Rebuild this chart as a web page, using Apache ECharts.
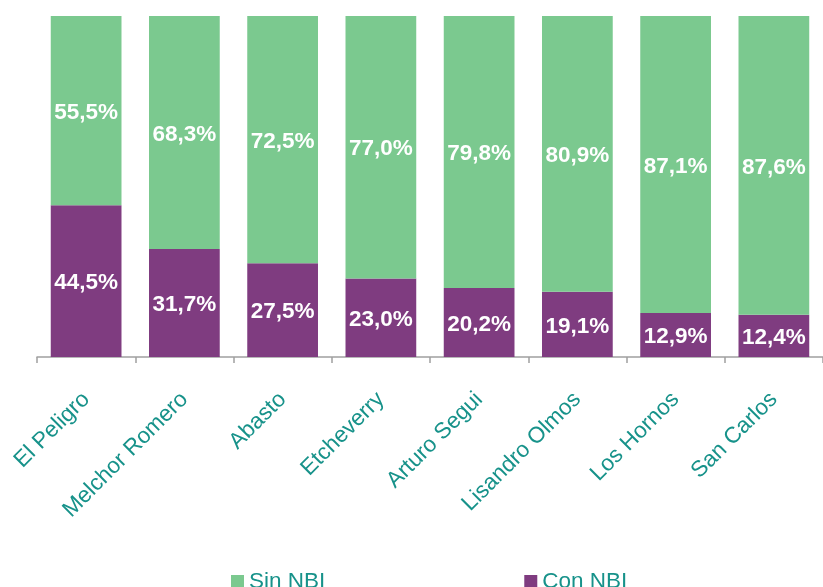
<!DOCTYPE html>
<html><head><meta charset="utf-8">
<script src="https://cdn.jsdelivr.net/npm/echarts@6/dist/echarts.min.js"></script>
<style>html,body{margin:0;padding:0;background:#fff}#c{width:823px;height:587px}</style>
</head><body><div id="c"></div>
<script>
var categories = ['El Peligro','Melchor Romero','Abasto','Etcheverry','Arturo Segui','Lisandro Olmos','Los Hornos','San Carlos'];
var conNBI = [44.5, 31.7, 27.5, 23.0, 20.2, 19.1, 12.9, 12.4];
var sinNBI = [55.5, 68.3, 72.5, 77.0, 79.8, 80.9, 87.1, 87.6];
var FONT = '"Liberation Sans", Arial, sans-serif';
var TEAL = '#17928A';
function fmt(p){ return p.value.toFixed(1).replace('.', ',') + '%'; }
var chart = echarts.init(document.getElementById('c'));
chart.setOption({
  animation: false,
  grid: {left: 37, top: 16, width: 792, height: 341},
  legend: {
    data: ['Sin NBI','Con NBI'], top: 565, left: 226, itemGap: 199,
    itemWidth: 13, itemHeight: 13, icon: 'rect',
    textStyle: {fontFamily: FONT, fontSize: 22.5, color: TEAL}
  },
  xAxis: {
    type: 'category', data: categories,
    axisLine: {lineStyle: {color: '#A0A0A0', width: 1.5}},
    axisTick: {show: true, length: 6, lineStyle: {color: '#A0A0A0', width: 1.5}},
    axisLabel: {rotate: 45, margin: 39, interval: 0, fontFamily: FONT, fontSize: 22.5, color: TEAL}
  },
  yAxis: {type: 'value', min: 0, max: 100, show: false, splitLine: {show: false}},
  series: [
    {name: 'Con NBI', type: 'bar', stack: 't', data: conNBI, barCategoryGap: '28%',
     itemStyle: {color: '#7F3C80'},
     label: {show: true, position: 'inside', offset: [0, 2], formatter: fmt, color: '#fff', fontWeight: 'bold', fontSize: 22.5, fontFamily: FONT}},
    {name: 'Sin NBI', type: 'bar', stack: 't', data: sinNBI, barCategoryGap: '28%',
     itemStyle: {color: '#7BC98F'},
     label: {show: true, position: 'inside', offset: [0, 2], formatter: fmt, color: '#fff', fontWeight: 'bold', fontSize: 22.5, fontFamily: FONT}}
  ]
});
</script></body></html>
